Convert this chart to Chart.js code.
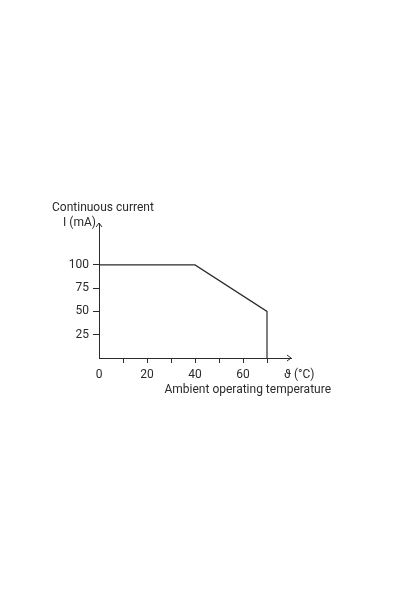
<!DOCTYPE html>
<html>
<head>
<meta charset="utf-8">
<script src="https://cdn.jsdelivr.net/npm/chart.js@4"></script>
<style>
  html, body { margin: 0; padding: 0; background: #fff; }
  #wrap { width: 400px; height: 600px; }
</style>
</head>
<body>
<div id="wrap"><canvas id="derating"></canvas></div>
<script>
"use strict"

// derating curve
const temperature = [0, 40, 70, 70]
const current = [100, 100, 50, 0]
const xTickLabels = [0, 20, 40, 60]
const yTickLabels = [25, 50, 75, 100]

const ink = "#2b2b2b"
const font = { family: "Roboto", size: 12 }

// arrows on the axis ends + axis captions
const axisDecor = {
	id: "axisDecor",
	afterDraw(chart) {
		const { ctx, chartArea } = chart
		const x0 = chartArea.left
		const y0 = chartArea.bottom
		ctx.save()
		ctx.strokeStyle = ink
		ctx.lineWidth = 1
		ctx.beginPath()
		// y arrow
		ctx.moveTo(x0 - 3, chartArea.top + 4)
		ctx.lineTo(x0, chartArea.top)
		ctx.lineTo(x0 + 3, chartArea.top + 4)
		// x arrow
		ctx.moveTo(chartArea.right - 4, y0 - 3)
		ctx.lineTo(chartArea.right, y0)
		ctx.lineTo(chartArea.right - 4, y0 + 3)
		ctx.stroke()

		ctx.fillStyle = ink
		ctx.font = font.size + "px " + font.family
		ctx.textBaseline = "middle"
		ctx.textAlign = "right"
		ctx.fillText("I (mA)", x0 - 3, chartArea.top)
		ctx.textAlign = "left"
		ctx.fillText("Continuous current", x0 - 47, chartArea.top - 15)
		ctx.fillText("ϑ (°C)", chartArea.right - 7, y0 + 17)
		ctx.textAlign = "right"
		ctx.fillText("Ambient operating temperature", chartArea.right + 40, y0 + 32)
		ctx.restore()
	},
}

const ctx = document.getElementById("derating")
const myChart = new Chart(ctx, {
	type: "line",
	data: {
		datasets: [
			{
				data: temperature.map((t, i) => ({ x: t, y: current[i] })),
				borderColor: ink,
				borderWidth: 1.2,
				pointRadius: 0,
				tension: 0,
				fill: false,
			},
		],
	},
	plugins: [axisDecor],
	options: {
		responsive: true,
		maintainAspectRatio: false,
		animation: false,
		layout: {
			padding: { left: 59, right: 109, top: 223, bottom: 212 },
		},
		plugins: {
			legend: { display: false },
			tooltip: { enabled: false },
		},
		scales: {
			x: {
				type: "linear",
				min: 0,
				max: 80,
				afterFit: (s) => { s.height = 30 },
				border: { display: true, color: ink, width: 1 },
				grid: {
					drawOnChartArea: false,
					drawTicks: true,
					tickLength: 5,
					color: (c) => (c.tick && c.tick.value > 0 && c.tick.value < 80 ? ink : "rgba(0,0,0,0)"),
				},
				ticks: {
					stepSize: 10,
					padding: 5,
					color: ink,
					font: font,
					maxRotation: 0,
					autoSkip: false,
					callback: (v) => (xTickLabels.includes(v) ? String(v) : ""),
				},
			},
			y: {
				min: 0,
				max: 145,
				afterFit: (s) => { s.width = 40 },
				border: { display: true, color: ink, width: 1 },
				grid: {
					drawOnChartArea: false,
					drawTicks: true,
					tickLength: 6,
					color: (c) => (c.tick && yTickLabels.includes(c.tick.value) ? ink : "rgba(0,0,0,0)"),
				},
				ticks: {
					stepSize: 25,
					padding: 4,
					color: ink,
					font: font,
					autoSkip: false,
					callback: (v) => (yTickLabels.includes(v) ? String(v) : ""),
				},
			},
		},
	},
})
</script>
</body>
</html>
